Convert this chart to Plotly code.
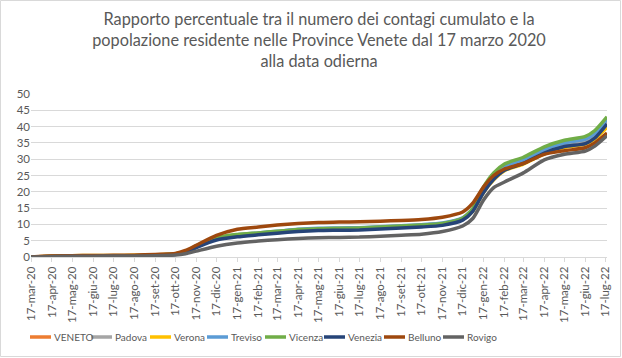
import plotly.graph_objects as go

# ---------------- data ----------------
dates = [
    "2020-03-17", "2020-04-17", "2020-05-17", "2020-06-17", "2020-07-17",
    "2020-08-17", "2020-09-17", "2020-10-17", "2020-11-01", "2020-11-17",
    "2020-12-17", "2021-01-17", "2021-02-17", "2021-03-17", "2021-04-17",
    "2021-05-17", "2021-06-17", "2021-07-17", "2021-08-17", "2021-09-17",
    "2021-10-17", "2021-11-17", "2021-12-17", "2022-01-01", "2022-01-17",
    "2022-02-01", "2022-02-17", "2022-03-17", "2022-04-17", "2022-05-17",
    "2022-06-17", "2022-07-01", "2022-07-19",
]

veneto = [0.0, 0.2, 0.35, 0.4, 0.4, 0.45, 0.6, 0.9, 1.6, 3.1, 5.6, 6.6, 7.2, 7.7, 8.3, 8.6, 8.7,
          8.8, 9.1, 9.4, 9.7, 10.2, 11.8, 14.5, 20.5, 24.5, 27.3, 29.3, 32.5, 34.5, 35.5, 37.2, 41.5]
padova = [0.0, 0.2, 0.35, 0.4, 0.4, 0.45, 0.6, 0.9, 1.6, 3.1, 5.5, 6.5, 7.1, 7.6, 8.2, 8.5, 8.6,
          8.7, 9.0, 9.3, 9.6, 10.1, 11.7, 14.4, 20.3, 24.3, 27.1, 29.1, 32.3, 34.3, 35.3, 37.0, 41.3]
verona = [0.0, 0.25, 0.4, 0.45, 0.45, 0.5, 0.65, 1.0, 1.7, 3.2, 5.5, 6.4, 7.0, 7.5, 8.1, 8.4, 8.5,
          8.6, 8.9, 9.2, 9.5, 10.0, 11.5, 14.0, 19.8, 23.7, 26.5, 28.5, 31.6, 33.6, 34.6, 36.2, 39.8]
treviso = [0.0, 0.15, 0.3, 0.35, 0.35, 0.4, 0.55, 0.9, 1.6, 3.2, 5.7, 6.8, 7.4, 7.9, 8.5, 8.8, 8.9,
           9.0, 9.3, 9.6, 9.9, 10.4, 12.0, 14.8, 21.0, 25.0, 27.8, 29.8, 33.0, 35.0, 36.2, 37.8, 42.3]
vicenza = [0.0, 0.15, 0.3, 0.35, 0.35, 0.4, 0.55, 0.9, 1.7, 3.4, 6.0, 6.9, 7.4, 7.9, 8.4, 8.7, 8.8,
           8.9, 9.2, 9.5, 9.8, 10.3, 11.9, 14.8, 21.5, 25.8, 28.5, 30.6, 33.8, 35.8, 37.0, 38.8, 43.0]
venezia = [0.0, 0.15, 0.3, 0.3, 0.35, 0.4, 0.5, 0.8, 1.4, 2.9, 5.2, 6.2, 6.8, 7.3, 7.8, 8.1, 8.2,
           8.3, 8.6, 8.9, 9.2, 9.7, 11.3, 14.0, 19.8, 23.8, 26.6, 28.7, 31.9, 33.9, 34.8, 36.5, 40.8]
belluno = [0.0, 0.3, 0.4, 0.45, 0.5, 0.55, 0.8, 1.1, 2.0, 3.6, 6.6, 8.5, 9.2, 9.8, 10.3, 10.6, 10.7,
           10.8, 11.0, 11.2, 11.5, 12.2, 13.8, 16.5, 21.5, 25.0, 27.0, 28.7, 31.5, 32.6, 33.5, 35.0, 38.0]
rovigo = [0.0, 0.1, 0.2, 0.25, 0.3, 0.3, 0.4, 0.6, 1.0, 1.8, 3.3, 4.3, 4.9, 5.3, 5.7, 5.9, 6.0,
          6.1, 6.4, 6.7, 7.0, 7.8, 9.5, 11.8, 17.5, 21.3, 23.0, 25.8, 29.8, 31.5, 32.5, 34.0, 37.2]

series_names = ["VENETO", "Padova", "Verona", "Treviso", "Vicenza", "Venezia", "Belluno", "Rovigo"]
series_values = [veneto, padova, verona, treviso, vicenza, venezia, belluno, rovigo]
series_colors = ["#ED7D31", "#A5A5A5", "#FFC000", "#5B9BD5", "#70AD47", "#264478", "#9E480E", "#636363"]

tick_dates = [
    "2020-03-17", "2020-04-17", "2020-05-17", "2020-06-17", "2020-07-17", "2020-08-17",
    "2020-09-17", "2020-10-17", "2020-11-17", "2020-12-17", "2021-01-17", "2021-02-17",
    "2021-03-17", "2021-04-17", "2021-05-17", "2021-06-17", "2021-07-17", "2021-08-17",
    "2021-09-17", "2021-10-17", "2021-11-17", "2021-12-17", "2022-01-17", "2022-02-17",
    "2022-03-17", "2022-04-17", "2022-05-17", "2022-06-17", "2022-07-17",
]
tick_labels = [
    "17-mar-20", "17-apr-20", "17-mag-20", "17-giu-20", "17-lug-20", "17-ago-20",
    "17-set-20", "17-ott-20", "17-nov-20", "17-dic-20", "17-gen-21", "17-feb-21",
    "17-mar-21", "17-apr-21", "17-mag-21", "17-giu-21", "17-lug-21", "17-ago-21",
    "17-set-21", "17-ott-21", "17-nov-21", "17-dic-21", "17-gen-22", "17-feb-22",
    "17-mar-22", "17-apr-22", "17-mag-22", "17-giu-22", "17-lug-22",
]

title_text = ("Rapporto percentuale tra il numero dei contagi cumulato e la<br>"
              "popolazione residente nelle Province Venete dal 17 marzo 2020<br>"
              "alla data odierna")

# ---------------- layout constants ----------------
W, H = 622, 358
ML, MR, MT, MB = 31, 15, 94, 101
TXT = "#595959"
GRID = "#D9D9D9"
FONT = "Lato"
pw = W - ML - MR
ph = H - MT - MB


def px2x(px):
    return (px - ML) / pw


def py2y(py):
    return (H - MB - py) / ph


# legend item left edges (pixels) and geometry, as in the reference
legend_left_px = [30, 91, 150, 207, 265, 324, 384, 443]
LEG_SWATCH = 21
LEG_Y = 337

fig = go.Figure()
for name, vals, col in zip(series_names, series_values, series_colors):
    fig.add_trace(go.Scatter(
        x=dates, y=vals, name=name, mode="lines", showlegend=False,
        line=dict(color=col, width=3.5, shape="spline", smoothing=0.6),
    ))

shapes = [dict(type="rect", xref="paper", yref="paper",
               x0=px2x(0.5), x1=px2x(W - 1.5), y0=py2y(H - 1.5), y1=py2y(0.5),
               line=dict(color=GRID, width=1), layer="below")]
annotations = []
for name, col, lx in zip(series_names, series_colors, legend_left_px):
    shapes.append(dict(type="line", xref="paper", yref="paper",
                       x0=px2x(lx), x1=px2x(lx + LEG_SWATCH),
                       y0=py2y(LEG_Y), y1=py2y(LEG_Y),
                       line=dict(color=col, width=3.5)))
    annotations.append(dict(text=name, xref="paper", yref="paper",
                            x=px2x(lx + LEG_SWATCH + 1), y=py2y(LEG_Y),
                            xanchor="left", yanchor="middle", showarrow=False,
                            font=dict(family=FONT, size=10, color=TXT)))

fig.update_layout(
    width=W, height=H,
    margin=dict(l=ML, r=MR, t=MT, b=MB, autoexpand=False),
    paper_bgcolor="white", plot_bgcolor="white",
    font=dict(family=FONT, color=TXT, size=12),
    title=dict(text=title_text, x=0.5, xref="paper", xanchor="center",
               y=1 - 25 / H, yanchor="top",
               font=dict(family=FONT, size=16.3, color=TXT)),
    xaxis=dict(
        type="date", range=["2020-03-17", "2022-07-19"], automargin=False,
        tickvals=tick_dates, ticktext=tick_labels, tickangle=-90,
        showgrid=False, showline=True, linecolor=GRID, linewidth=1,
        ticks="outside", ticklen=4, tickcolor=GRID,
        tickfont=dict(size=11.5, color=TXT), zeroline=False,
    ),
    yaxis=dict(
        range=[0, 50], dtick=5, showgrid=True, gridcolor=GRID, gridwidth=1,
        zeroline=False, showline=False, ticks="", automargin=False,
        tickfont=dict(size=11.5, color=TXT),
    ),
    shapes=shapes,
    annotations=annotations,
    showlegend=False,
)

fig.write_html("out.html", config={"displayModeBar": False},
               post_script="document.body.style.margin='0';")
